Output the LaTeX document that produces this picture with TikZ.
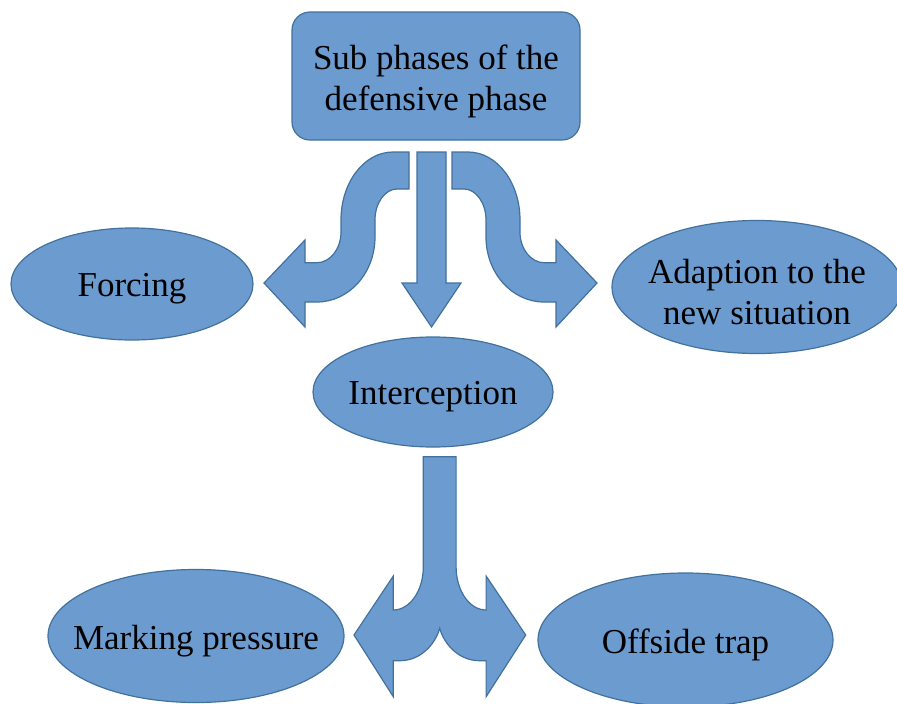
\documentclass[tikz,border=0pt]{standalone}
\usepackage{fontspec}
\setmainfont{Liberation Serif}
\usetikzlibrary{shapes.geometric}
\definecolor{boxfill}{RGB}{108,155,208}
\definecolor{boxline}{RGB}{65,113,156}
\begin{document}
\begin{tikzpicture}[x=1pt,y=-1pt,
  shapebase/.style={fill=boxfill,draw=boxline,line width=1.2pt},
  ell/.style={shapebase,ellipse,inner sep=0pt},
  txt/.style={inner sep=0pt,align=center,font=\fontsize{35}{41}\selectfont,yshift=-5pt},
  topbox/.style={shapebase,rounded corners=18pt,inner sep=0pt},
  blockarrow/.style={shapebase,line join=miter}]
\useasboundingbox (0,0) rectangle (897,704);
\clip (0,0) rectangle (897,704);
% top box
\node[topbox,minimum width=288pt,minimum height=128pt] (top) at (436,76) {};
\node[txt] (toptext) at (top) {Sub phases of the\\defensive phase};
% ellipses
\node[ell,minimum width=242pt,minimum height=112pt] (forcing) at (132,284) {};
\node[txt] (forcingtext) at (forcing) {Forcing};
\node[ell,minimum width=290pt,minimum height=133pt] (adapt) at (757,287) {};
\node[txt] (adapttext) at (adapt) {Adaption to the\\new situation};
\node[ell,minimum width=240pt,minimum height=110pt] (inter) at (433,392) {};
\node[txt] (intertext) at (inter) {Interception};
\node[ell,minimum width=296pt,minimum height=133pt] (mark) at (196,636) {};
\node[txt] (marktext) at (mark) {Marking pressure};
\node[ell,minimum width=295pt,minimum height=134pt] (off) at (685.5,640) {};
\node[txt] (offtext) at (off) {Offside trap};
% left curved arrow
\draw[blockarrow] (409,152) -- (393,152)
  .. controls (364,152) and (341,182.5) .. (341,220) -- (341,232)
  .. controls (341,249) and (330,262.7) .. (317,262.7) -- (305,262.7)
  -- (305,240) -- (264,283) -- (305,327) -- (305,302) -- (317,302)
  .. controls (349,302) and (375,273) .. (375,237) -- (375,220)
  .. controls (375,203) and (385,189) .. (397,189) -- (409,189) -- cycle;
% right curved arrow (mirror about x=430.5)
\draw[blockarrow] (452,152) -- (468,152)
  .. controls (497,152) and (520,182.5) .. (520,220) -- (520,232)
  .. controls (520,249) and (531,262.7) .. (544,262.7) -- (556,262.7)
  -- (556,240) -- (597,283) -- (556,327) -- (556,302) -- (544,302)
  .. controls (512,302) and (486,273) .. (486,237) -- (486,220)
  .. controls (486,203) and (476,189) .. (464,189) -- (452,189) -- cycle;
% centre straight arrow
\draw[blockarrow] (417,152) -- (446,152) -- (446,283) -- (461,283) -- (431.5,327)
  -- (402,283) -- (417,283) -- cycle;
% bottom split arrow
\draw[blockarrow] (423.3,456.7) -- (456.1,456.7) -- (456.1,567)
  .. controls (456.1,590.7) and (469.5,610) .. (486.1,610)
  -- (486.1,576) -- (525.7,635) -- (486.1,696.7) -- (486.1,660.7) -- (479.4,660.7)
  .. controls (459.4,660.7) and (444.4,645) .. (439.7,628.3)
  .. controls (435,645) and (420,660.7) .. (400,660.7)
  -- (393.3,660.7) -- (393.3,696.7) -- (354,635) -- (393.3,576) -- (393.3,610)
  .. controls (409.9,610) and (423.3,590.7) .. (423.3,567) -- cycle;
\end{tikzpicture}
\end{document}
